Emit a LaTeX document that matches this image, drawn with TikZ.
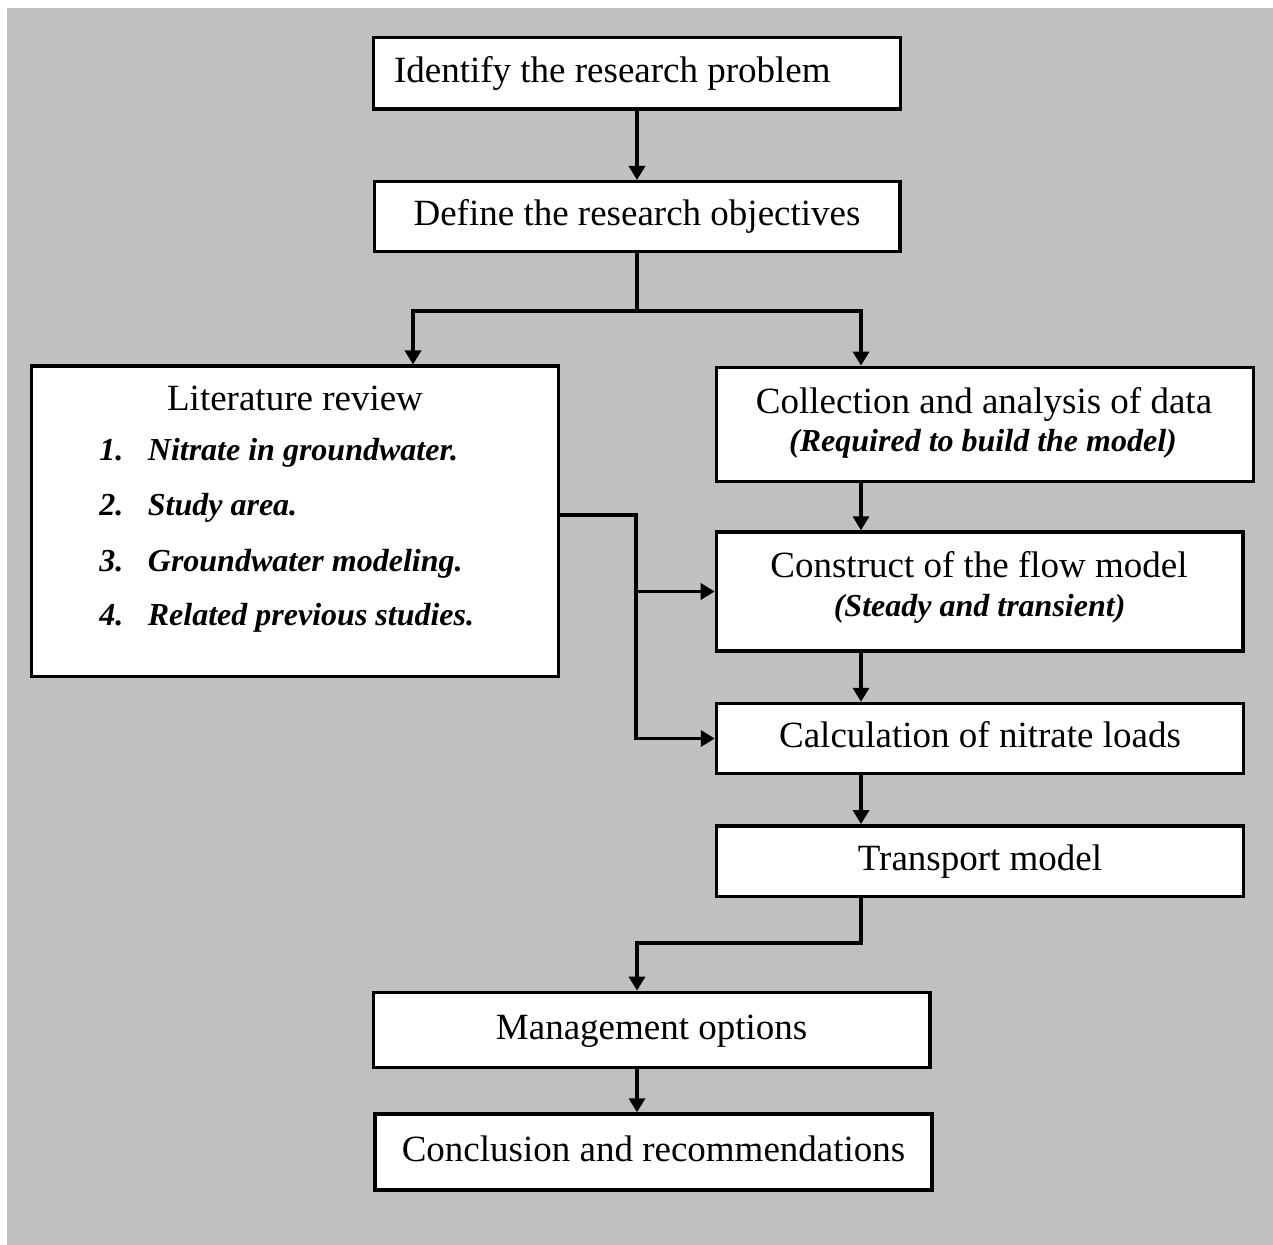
\documentclass[tikz,border=0pt]{standalone}
\usepackage{fontspec}
\setmainfont{Liberation Serif}
\usetikzlibrary{arrows.meta}
\definecolor{bg}{HTML}{C0C0C0}
\begin{document}
\begin{tikzpicture}[x=0.5pt,y=-0.5pt,
  box/.style={draw=black, fill=white, line width=1.7pt, inner sep=0pt,
    font=\fontsize{18.5}{22}\selectfont, text height=13.9pt, text depth=4.6pt},
  lbl/.style={inner sep=0pt, anchor=base, font=\fontsize{18.5}{22}\selectfont},
  sub/.style={inner sep=0pt, anchor=base, font=\fontsize{16}{19}\selectfont\bfseries\itshape},
  conn/.style={line width=1.7pt},
  arr/.style={conn, -{Triangle[length=7pt,width=8pt]}}]
\useasboundingbox (0,0) rectangle (1273,1245);
\fill[white] (0,0) rectangle (1273,1245);
\fill[bg] (7,8) rectangle (1273,1245);

\node[box, minimum width=263.5pt, minimum height=35.7pt] (ident) at (637,73.3) {\makebox[243pt][l]{Identify the research problem}};
\node[box, minimum width=262.8pt, minimum height=35pt] (def) at (637,216.7) {Define the research objectives};

\node[box, minimum width=263.75pt, minimum height=155pt] (lit) at (295,521.2) {};
\node[lbl] (litT) at (295,410.7) {Literature review};
\node[sub, anchor=base west] (n1) at (99,461) {1.};
\node[sub, anchor=base west] (t1) at (147.5,461) {Nitrate in groundwater.};
\node[sub, anchor=base west] (n2) at (99,515.7) {2.};
\node[sub, anchor=base west] (t2) at (147.5,515.7) {Study area.};
\node[sub, anchor=base west] (n3) at (99,571) {3.};
\node[sub, anchor=base west] (t3) at (147.5,571) {Groundwater modeling.};
\node[sub, anchor=base west] (n4) at (99,625.7) {4.};
\node[sub, anchor=base west] (t4) at (147.5,625.7) {Related previous studies.};

\node[box, minimum width=268.65pt, minimum height=57.2pt] (coll) at (985,424.5) {};
\node[lbl] (collT) at (984,413.3) {Collection and analysis of data};
\node[sub] (collS) at (983,451.7) {(Required to build the model)};

\node[box, minimum width=263.2pt, minimum height=59.5pt] (cons) at (979.6,591.5) {};
\node[lbl] (consT) at (979,577.7) {Construct of the flow model};
\node[sub] (consS) at (979.6,616.7) {(Steady and transient)};

\node[box, minimum width=263.5pt, minimum height=35pt] (calc) at (980,738.5) {Calculation of nitrate loads};
\node[box, minimum width=263.5pt, minimum height=35.2pt] (trans) at (980,861) {Transport model};
\node[box, minimum width=278.4pt, minimum height=37.7pt] (mgmt) at (651.6,1030) {Management options};
\node[box, minimum width=278.5pt, minimum height=38pt] (concl) at (653.5,1152) {Conclusion and recommendations};

\coordinate (midx) at (637,0);
\coordinate (colx) at (861,0);
\coordinate (split) at (637,311);
\coordinate (bus) at (636,515);
\coordinate (bend) at (637,943);

\draw[arr] (ident.south) -- (def.north);
\draw[conn] (def.south) -- (split);
\draw[arr] (split) -| ([xshift=59pt]lit.north);
\draw[arr] (split) -| (colx |- coll.north);
\draw[arr] (colx |- coll.south) -- (colx |- cons.north);
\draw[arr] (colx |- cons.south) -- (colx |- calc.north);
\draw[arr] (colx |- calc.south) -- (colx |- trans.north);
\draw[arr] (lit.east |- bus) -| (bus |- calc.west) -- (calc.west);
\draw[arr] (bus |- cons.west) -- (cons.west);
\draw[arr] (colx |- trans.south) |- (bend) -- (midx |- mgmt.north);
\draw[arr] (midx |- mgmt.south) -- (midx |- concl.north);
\end{tikzpicture}
\end{document}
